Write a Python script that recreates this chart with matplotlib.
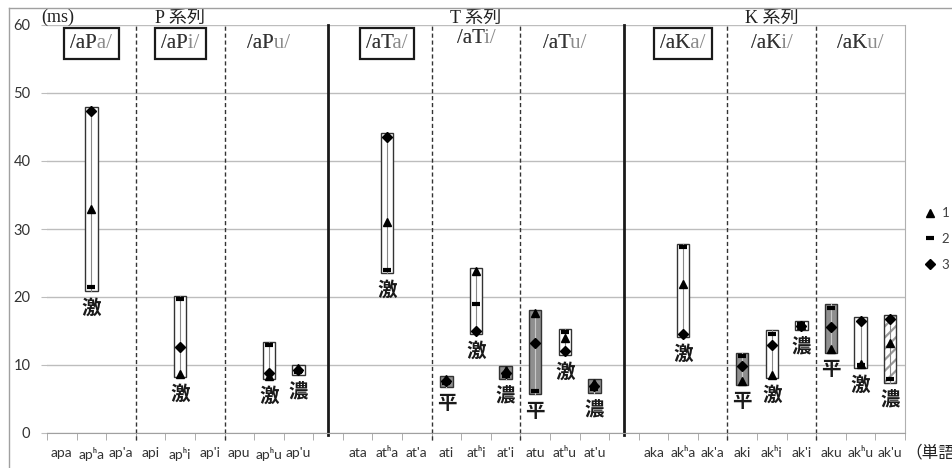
import numpy as np
import matplotlib
matplotlib.use('Agg')
import matplotlib.pyplot as plt
from matplotlib.patches import Rectangle
from matplotlib.lines import Line2D
from matplotlib.transforms import blended_transform_factory

nan = np.nan

series = ['P', 'T', 'K']
vowels = ['a', 'i', 'u']

words_p = ['apa', 'apʰa', "ap'a", 'api', 'apʰi', "ap'i", 'apu', 'apʰu', "ap'u"]
words_t = ['ata', 'atʰa', "at'a", 'ati', 'atʰi', "at'i", 'atu', 'atʰu', "at'u"]
words_k = ['aka', 'akʰa', "ak'a", 'aki', 'akʰi', "ak'i", 'aku', 'akʰu', "ak'u"]

# series 1 (triangle), 2 (dash), 3 (diamond), ms
tri_p = [nan, 33.0, nan, nan, 8.7, nan, nan, 8.4, 9.5]
dash_p = [nan, 21.4, nan, nan, 19.7, nan, nan, 12.9, 9.0]
dia_p = [nan, 47.4, nan, nan, 12.7, nan, nan, 8.8, 9.2]
kind_p = ['', '激', '', '', '激', '', '', '激', '濃']

tri_t = [nan, 31.0, nan, 7.9, 23.8, 9.3, 17.6, 14.0, 7.4]
dash_t = [nan, 24.0, nan, 7.3, 18.9, 8.4, 6.2, 14.8, 6.4]
dia_t = [nan, 43.6, nan, 7.7, 15.0, 8.8, 13.3, 12.0, 6.9]
kind_t = ['', '激', '', '平', '激', '濃', '平', '激', '濃']

tri_k = [nan, 21.9, nan, 7.6, 8.6, 15.9, 12.3, 10.2, 13.2]
dash_k = [nan, 27.3, nan, 11.3, 14.6, 16.0, 18.4, 10.0, 7.9]
dia_k = [nan, 14.6, nan, 9.8, 12.9, 15.7, 15.6, 16.5, 16.8]
kind_k = ['', '激', '', '平', '激', '濃', '平', '激', '濃']

boxed_headers = ['/aPa/', '/aPi/', '/aTa/', '/aKa/']

# box fill styles
box_fill = {'ati': 'gray', "at'i": 'gray', 'atu': 'gray', "at'u": 'gray',
            'aki': 'gray', 'aku': 'gray', "ak'u": 'hatch'}

words = words_p + words_t + words_k
tri = tri_p + tri_t + tri_k
dash = dash_p + dash_t + dash_k
dia = dia_p + dia_t + dia_k
kinds = kind_p + kind_t + kind_k

# positions: one empty slot between the series
xpos = [g * 10 + j for g in range(3) for j in range(9)]

plt.rcParams['hatch.linewidth'] = 1.6

fig = plt.figure(figsize=(9.53, 4.68), dpi=100)
ax = fig.add_axes([47 / 953, 1 - 433 / 468, 858 / 953, 408 / 468])

ax.set_xlim(-0.5, 28.5)
ax.set_ylim(0, 60)
ax.set_yticks(np.arange(0, 61, 10))
ax.yaxis.grid(True, color='#bdbdbd', lw=1)
ax.set_axisbelow(True)

for s in ['left', 'top']:
    ax.spines[s].set_visible(False)
ax.spines['right'].set_color('#b0b0b0')
ax.spines['bottom'].set_color('#a0a0a0')

ax.set_xticks(xpos, words)
ax.set_xticks(np.arange(-0.5, 29, 1), minor=True)
ax.tick_params(axis='x', which='major', length=0, pad=10, labelsize=10,
               labelcolor='#333333')
ax.tick_params(axis='x', which='minor', length=5, color='#a0a0a0')
ax.tick_params(axis='y', length=4, color='#bdbdbd', pad=8, labelsize=10.5,
               labelcolor='#333333')
for lab in ax.get_xticklabels() + ax.get_yticklabels():
    lab.set_family(['Lato', 'DejaVu Sans'])

# separators
for g in range(3):
    for b in [2.5, 5.5]:
        ax.plot([g * 10 + b] * 2, [-1, 60], color='#333333', lw=1,
                dashes=(3, 2), clip_on=False, zorder=2)
for b in [9, 19]:
    ax.plot([b, b], [-0.3, 60], color='#1a1a1a', lw=2, clip_on=False,
            zorder=2)

# floating boxes
for x, w, a, b, c, k in zip(xpos, words, tri, dash, dia, kinds):
    vals = [v for v in (a, b, c) if not np.isnan(v)]
    if not vals:
        continue
    lo = min(vals) - 0.5
    hi = max(vals) + 0.5
    style = box_fill.get(w, 'white')
    if style == 'gray':
        ax.add_patch(Rectangle((x - 0.21, lo), 0.42, hi - lo, fc='#8f8f8f',
                               ec='#333333', lw=1, zorder=3))
        ax.plot([x, x], [lo, hi], color='#c8c8c8', lw=0.8, zorder=4)
    elif style == 'hatch':
        ax.add_patch(Rectangle((x - 0.21, lo), 0.42, hi - lo, fc='white',
                               ec='#9a9a9a', lw=0, hatch='///', zorder=3))
        ax.add_patch(Rectangle((x - 0.21, lo), 0.42, hi - lo, fc='none',
                               ec='#333333', lw=1, zorder=3))
        ax.plot([x, x], [lo, hi], color='#888888', lw=0.8, zorder=4)
    else:
        ax.add_patch(Rectangle((x - 0.21, lo), 0.42, hi - lo, fc='white',
                               ec='#333333', lw=1, zorder=3))
        ax.plot([x, x], [lo, hi], color='#888888', lw=0.8, zorder=4)
    ax.text(x, min(vals) - 3.0, k, ha='center', va='center', fontsize=14,
            family='Noto Sans CJK JP', fontweight='bold', color='#1a1a1a',
            zorder=5)

ax.plot(xpos, tri, '^', ls='none', color='black', ms=6, zorder=6, label='1')
ax.plot(xpos, dash, '_', ls='none', color='black', ms=6, mew=3, zorder=6,
        label='2')
ax.plot(xpos, dia, 'D', ls='none', color='black', ms=5.5, zorder=6,
        label='3')

leg = fig.legend(loc='center left', bbox_to_anchor=(926 / 953, 1 - 239 / 468),
                 frameon=False, handlelength=0.6, handletextpad=0.6,
                 labelspacing=1.05, fontsize=9.5, borderpad=0,
                 borderaxespad=0)
for t in leg.get_texts():
    t.set_color('#404040')
    t.set_family(['Lato', 'DejaVu Sans'])

trans = blended_transform_factory(ax.transData, ax.transAxes)
serif_cjk = ['Liberation Serif', 'Noto Sans CJK JP']

# series titles and vowel headers
for g, s in enumerate(series):
    ax.text(g * 10 + 4, 1.015, s + ' 系列', transform=trans, ha='center',
            va='center', fontsize=13, family=serif_cjk, color='#222222',
            zorder=7)
    for vi, v in enumerate(vowels):
        x = g * 10 + vi * 3 + 1
        full = '/a' + s + v + '/'
        y = 0.968 if full == '/aTi/' else 0.955
        bbox = None
        if full in boxed_headers:
            bbox = dict(boxstyle='square,pad=0.3', fc='white', ec='#1a1a1a',
                        lw=1.6)
        t_full = ax.text(x, y, full, transform=trans, ha='center',
                         va='center', fontsize=15, family='Liberation Serif',
                         color='#8a8a8a', bbox=bbox, zorder=7)
        ax.annotate('/a' + s, xy=(0, 0), xycoords=t_full, ha='left',
                    va='bottom', fontsize=15, family='Liberation Serif',
                    color='#333333', zorder=8)

fig.text(41 / 953, 1 - 17 / 468, '(ms)', ha='left', va='center',
         fontsize=13, family='Liberation Serif', color='#222222')
fig.text(905 / 953, 1 - 453 / 468, '（単語）', ha='left', va='center',
         fontsize=12, family='Noto Sans CJK JP', color='#222222')

# outer chart frame
fig.add_artist(Line2D([9 / 953, 9 / 953], [0, 1 - 8 / 468],
                      transform=fig.transFigure, color='#a0a0a0', lw=1))
fig.add_artist(Line2D([9 / 953, 1], [1 - 8 / 468, 1 - 8 / 468],
                      transform=fig.transFigure, color='#a0a0a0', lw=1))

fig.savefig('out.png', dpi=100, facecolor='white')
